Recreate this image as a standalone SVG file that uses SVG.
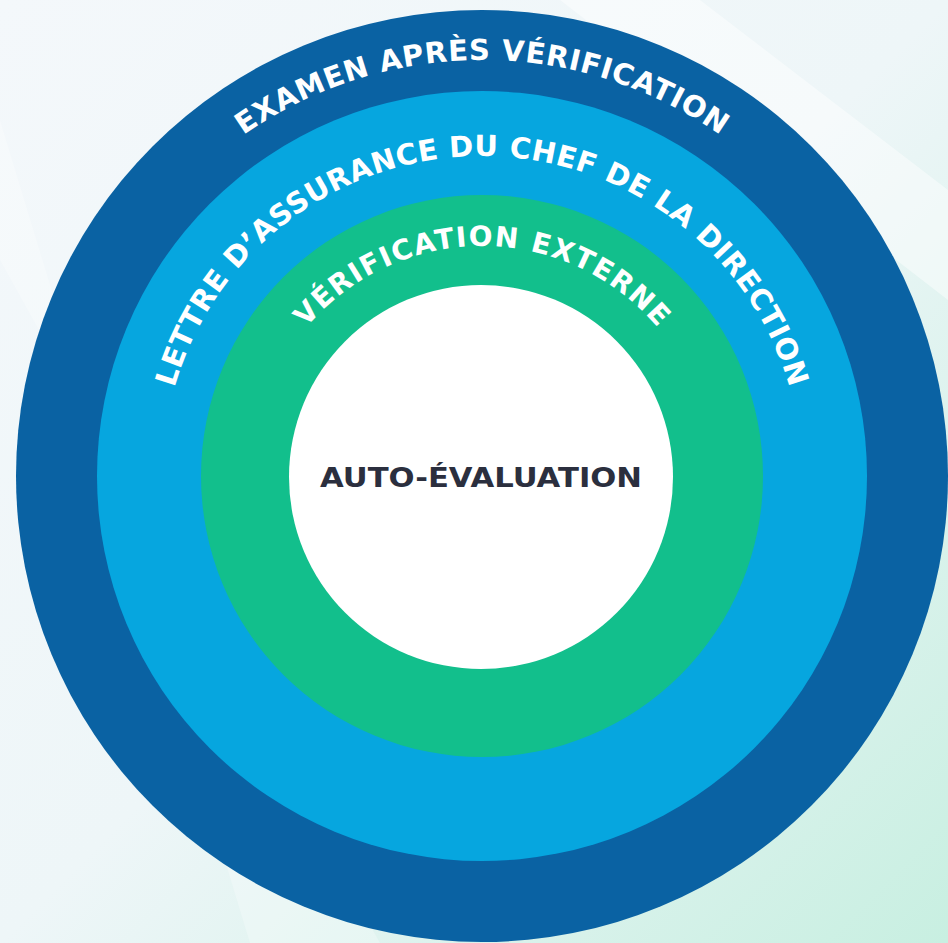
<svg xmlns="http://www.w3.org/2000/svg" width="948" height="943" viewBox="0 0 948 943">
  <defs>
    <linearGradient id="bg" x1="0" y1="0" x2="1" y2="1">
      <stop offset="0" stop-color="#f4f8fb"/>
      <stop offset="0.5" stop-color="#eef6f8"/>
      <stop offset="1" stop-color="#c8efe1"/>
    </linearGradient>
    <path id="arcOuter" d="M 66,476 A 416,416 0 0 1 898,476"/>
    <path id="arcMid" d="M 162,476 A 320,320 0 0 1 802,476"/>
    <path id="arcInner" d="M 252,476 A 230,230 0 0 1 712,476"/>
    <style>
      .ring-label { font-family: "DejaVu Sans", "Liberation Sans", sans-serif; font-weight: bold; fill: #ffffff; }
      .core-label { font-family: "DejaVu Sans", "Liberation Sans", sans-serif; font-weight: bold; fill: #2b2f3e; }
    </style>
  </defs>

  <!-- background -->
  <rect x="0" y="0" width="948" height="943" fill="url(#bg)"/>
  <polygon points="560,0 700,0 948,190 948,300" fill="#ffffff" opacity="0.45"/>
  <polygon points="0,120 0,260 380,943 250,943" fill="#ffffff" opacity="0.25"/>

  <g id="node-examen">
    <circle cx="482" cy="476" r="466" fill="#0a62a3"/>
    <text class="ring-label" font-size="29"><textPath href="#arcOuter" startOffset="50%" text-anchor="middle" textLength="508" lengthAdjust="spacing">EXAMEN APRÈS VÉRIFICATION</textPath></text>
  </g>

  <g id="node-lettre">
    <circle cx="482" cy="476" r="385" fill="#06a6df"/>
    <text class="ring-label" font-size="29"><textPath href="#arcMid" startOffset="50%" text-anchor="middle" textLength="826" lengthAdjust="spacing">LETTRE D’ASSURANCE DU CHEF DE LA DIRECTION</textPath></text>
  </g>

  <g id="node-verification">
    <circle cx="482" cy="476" r="281" fill="#12bf8c"/>
    <text class="ring-label" font-size="28"><textPath href="#arcInner" startOffset="50%" text-anchor="middle" textLength="400" lengthAdjust="spacing">VÉRIFICATION EXTERNE</textPath></text>
  </g>

  <g id="node-auto">
    <circle cx="481" cy="477" r="192" fill="#ffffff"/>
    <text class="core-label" x="481" y="487" font-size="27" text-anchor="middle" textLength="322" lengthAdjust="spacingAndGlyphs">AUTO-ÉVALUATION</text>
  </g>

  <g id="connectors"/>
</svg>
